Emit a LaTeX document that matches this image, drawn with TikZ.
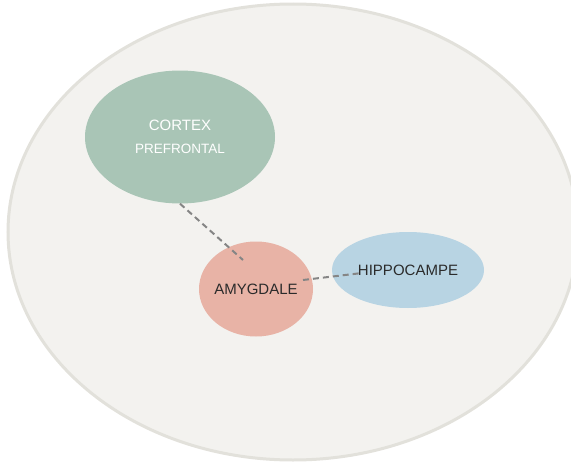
\documentclass[tikz,border=0pt]{standalone}
\usepackage{xcolor}
\usepackage{fontspec}
\setmainfont{Liberation Sans}
\usetikzlibrary{shapes,calc}

\definecolor{brainfill}{HTML}{F3F2EF}
\definecolor{braindraw}{HTML}{E2E1DB}
\definecolor{cortexfill}{HTML}{A9C5B6}
\definecolor{amygfill}{HTML}{E8B3A6}
\definecolor{hippofill}{HTML}{B8D4E3}
\definecolor{linkgray}{HTML}{858585}
\definecolor{darktext}{HTML}{2B2B2B}

\begin{document}
\begin{tikzpicture}[x=1pt, y=-1pt,
    region/.style={ellipse, draw=none, inner sep=-5pt, align=center, font=\fontsize{15}{17}\selectfont},
    link/.style={draw=linkgray, line width=2pt, dash pattern=on 6pt off 4pt}]
    \useasboundingbox (0,0) rectangle (571,463);
    \node (brain) at (293,232) [ellipse, fill=brainfill, draw=braindraw, line width=3pt, minimum width=570pt, minimum height=456pt] {};
    \node (cortex) at (180,137) [region, fill=cortexfill, text=white, minimum width=190pt, minimum height=133pt] {CORTEX\\[6pt]\fontsize{13.5}{17}\selectfont PREFRONTAL};
    \node (amyg) at (256,289) [region, fill=amygfill, text=darktext, minimum width=114pt, minimum height=95pt] {AMYGDALE};
    \node (hippo) at (408,270) [region, fill=hippofill, text=darktext, minimum width=152pt, minimum height=76pt] {HIPPOCAMPE};

    \draw [link] (cortex.south) -- ($(amyg.center)+(-13,-29)$);
    \draw [link] ($(amyg.center)+(47,-9)$) -- ($(hippo.center)+(-46,3)$);
\end{tikzpicture}
\end{document}
